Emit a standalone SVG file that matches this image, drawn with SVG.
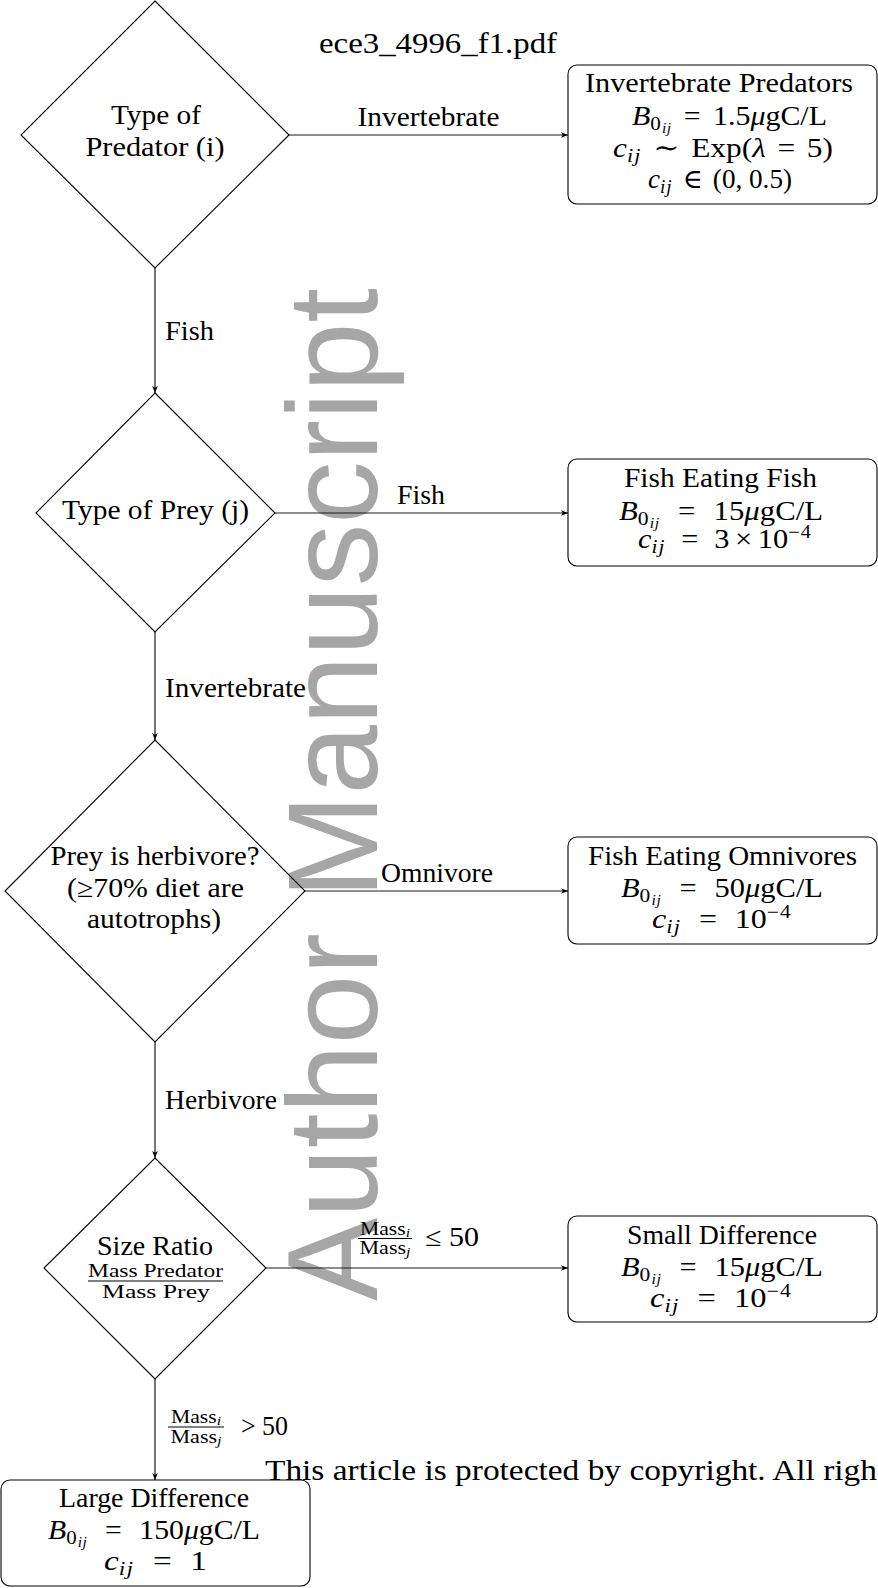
<svg xmlns="http://www.w3.org/2000/svg" width="878" height="1588" viewBox="0 0 878 1588">
<style>
.n{fill:none;stroke:#000;stroke-width:1.1}
.b{fill:#fff;stroke:#000;stroke-width:1.1}
.t{font-family:"Liberation Serif","DejaVu Serif",serif;font-size:27px;fill:#000}
.s{font-size:18px}
.i{font-style:italic}
.sb{font-size:19px;letter-spacing:1px}
.ss{font-size:14px;letter-spacing:0.5px}
.sp{font-size:18px;letter-spacing:1px}
.c{fill:none;stroke:#1a1a1a;stroke-width:1.2;marker-end:url(#ah)}
.fl{stroke:#000;stroke-width:1.1}
.wm{font-family:"Liberation Sans",Arial,sans-serif;font-size:128px;fill:#a6a6a6}
.pdf{font-family:"Liberation Serif","DejaVu Serif",serif;font-size:30px;fill:#000}
</style>
<defs>
<marker id="ah" viewBox="0 0 10 8" refX="10" refY="4" markerWidth="7" markerHeight="5.6" markerUnits="userSpaceOnUse" orient="auto">
<path d="M0,0 L10,4 L0,8 L2.5,4 z" fill="#000"/>
</marker>
</defs>
<rect width="878" height="1588" fill="#fff"/>

<g id="watermark">
<text class="wm" transform="translate(377,1301) rotate(-90)" x="0" y="0" textLength="1013" lengthAdjust="spacingAndGlyphs">Author Manuscript</text>
</g>

<g id="header">
<text class="pdf" x="319" y="53" textLength="238" lengthAdjust="spacingAndGlyphs">ece3_4996_f1.pdf</text>
</g>

<g id="connectors">
<line class="c" x1="155" y1="268" x2="155" y2="393"/>
<line class="c" x1="289" y1="135" x2="568" y2="135"/>
<line class="c" x1="275" y1="513" x2="568" y2="513"/>
<line class="c" x1="155" y1="632" x2="155" y2="740"/>
<line class="c" x1="305" y1="891" x2="568" y2="891"/>
<line class="c" x1="155" y1="1042" x2="155" y2="1158"/>
<line class="c" x1="266" y1="1268" x2="568" y2="1268"/>
<line class="c" x1="155" y1="1379" x2="155" y2="1480"/>
<text class="t" x="428.5" y="126" text-anchor="middle" textLength="142" lengthAdjust="spacingAndGlyphs">Invertebrate</text>
<text class="t" x="165" y="340" textLength="49" lengthAdjust="spacingAndGlyphs">Fish</text>
<text class="t" x="421" y="504" text-anchor="middle" textLength="48" lengthAdjust="spacingAndGlyphs">Fish</text>
<text class="t" x="165" y="697" textLength="141" lengthAdjust="spacingAndGlyphs">Invertebrate</text>
<text class="t" x="437" y="882" text-anchor="middle" textLength="112" lengthAdjust="spacingAndGlyphs">Omnivore</text>
<text class="t" x="165" y="1109" textLength="112" lengthAdjust="spacingAndGlyphs">Herbivore</text>
<g id="label-le50">
<text class="t s" x="385" y="1235" text-anchor="middle" textLength="50" lengthAdjust="spacingAndGlyphs">Mass<tspan class="i" font-size="13" dy="2">i</tspan></text>
<line class="fl" x1="358" y1="1238.5" x2="412" y2="1238.5"/>
<text class="t s" x="385" y="1254" text-anchor="middle" textLength="51" lengthAdjust="spacingAndGlyphs">Mass<tspan class="i" font-size="13" dy="2">j</tspan></text>
<text class="t" x="425" y="1246" textLength="54" lengthAdjust="spacingAndGlyphs">≤ 50</text>
</g>
<g id="label-gt50">
<text class="t s" x="196" y="1423" text-anchor="middle" textLength="50" lengthAdjust="spacingAndGlyphs">Mass<tspan class="i" font-size="13" dy="2">i</tspan></text>
<line class="fl" x1="168" y1="1427" x2="224" y2="1427"/>
<text class="t s" x="196" y="1443" text-anchor="middle" textLength="51" lengthAdjust="spacingAndGlyphs">Mass<tspan class="i" font-size="13" dy="2">j</tspan></text>
<text class="t" x="241" y="1435" textLength="47" lengthAdjust="spacingAndGlyphs">&gt; 50</text>
</g>
</g>

<g id="d1">
<polygon class="n" points="155,1 289,135 155,268 21,135"/>
<text class="t" x="156" y="124" text-anchor="middle" textLength="90" lengthAdjust="spacingAndGlyphs">Type of</text>
<text class="t" x="155" y="156" text-anchor="middle" textLength="139" lengthAdjust="spacingAndGlyphs">Predator (i)</text>
</g>

<g id="d2">
<polygon class="n" points="155,393 275,513 155,632 36,513"/>
<text class="t" x="155.5" y="519" text-anchor="middle" textLength="187" lengthAdjust="spacingAndGlyphs">Type of Prey (j)</text>
</g>

<g id="d3">
<polygon class="n" points="155,740 305,891 155,1042 5,891"/>
<text class="t" x="155" y="865" text-anchor="middle" textLength="209" lengthAdjust="spacingAndGlyphs">Prey is herbivore?</text>
<text class="t" x="155.5" y="897" text-anchor="middle" textLength="177" lengthAdjust="spacingAndGlyphs">(≥70% diet are</text>
<text class="t" x="154" y="928" text-anchor="middle" textLength="134" lengthAdjust="spacingAndGlyphs">autotrophs)</text>
</g>

<g id="d4">
<polygon class="n" points="155,1158 266,1268 155,1379 44,1268"/>
<text class="t" x="155" y="1255" text-anchor="middle" textLength="116" lengthAdjust="spacingAndGlyphs">Size Ratio</text>
<text class="t s" x="155.5" y="1277" text-anchor="middle" textLength="135" lengthAdjust="spacingAndGlyphs">Mass Predator</text>
<line class="fl" x1="88" y1="1281" x2="223" y2="1281"/>
<text class="t s" x="156" y="1298" text-anchor="middle" textLength="108" lengthAdjust="spacingAndGlyphs">Mass Prey</text>
</g>

<g id="b1">
<rect class="b" x="568" y="65" width="309" height="139" rx="9"/>
<text class="t" x="719" y="92" text-anchor="middle" textLength="268" lengthAdjust="spacingAndGlyphs">Invertebrate Predators</text>
<text class="t" x="729.5" y="125" text-anchor="middle" textLength="195" lengthAdjust="spacingAndGlyphs"><tspan class="i">B</tspan><tspan class="sb" dy="5">0</tspan><tspan class="i ss" dy="3">ij</tspan><tspan dx="11" dy="-8">=</tspan><tspan dx="11">1.5</tspan><tspan class="i">μ</tspan><tspan>gC/L</tspan></text>
<text class="t" x="723" y="157" text-anchor="middle" textLength="220" lengthAdjust="spacingAndGlyphs"><tspan class="i">c</tspan><tspan class="i sb" dy="5">ij</tspan><tspan dx="10" dy="-5">∼</tspan><tspan dx="10">Exp(</tspan><tspan class="i">λ</tspan><tspan dx="10">=</tspan><tspan dx="10">5)</tspan></text>
<text class="t" x="720" y="188" text-anchor="middle" textLength="144" lengthAdjust="spacingAndGlyphs"><tspan class="i">c</tspan><tspan class="i sb" dy="5">ij</tspan><tspan dx="10" dy="-5">∈</tspan><tspan dx="10">(0, 0.5)</tspan></text>
</g>

<g id="b2">
<rect class="b" x="568" y="459" width="309" height="107" rx="9"/>
<text class="t" x="720.5" y="487" text-anchor="middle" textLength="193" lengthAdjust="spacingAndGlyphs">Fish Eating Fish</text>
<text class="t" x="721" y="520" text-anchor="middle" textLength="204" lengthAdjust="spacingAndGlyphs"><tspan class="i">B</tspan><tspan class="sb" dy="5">0</tspan><tspan class="i ss" dy="3">ij</tspan><tspan dx="16" dy="-8">=</tspan><tspan dx="16">15</tspan><tspan class="i">μ</tspan><tspan>gC/L</tspan></text>
<text class="t" x="725" y="548" text-anchor="middle" textLength="174" lengthAdjust="spacingAndGlyphs"><tspan class="i">c</tspan><tspan class="i sb" dy="5">ij</tspan><tspan dx="14" dy="-5">=</tspan><tspan dx="14">3</tspan><tspan dx="5">×</tspan><tspan dx="5">10</tspan><tspan class="sp" dy="-10">−4</tspan></text>
</g>

<g id="b3">
<rect class="b" x="568" y="837" width="309" height="107" rx="9"/>
<text class="t" x="722.5" y="865" text-anchor="middle" textLength="269" lengthAdjust="spacingAndGlyphs">Fish Eating Omnivores</text>
<text class="t" x="722" y="897" text-anchor="middle" textLength="202" lengthAdjust="spacingAndGlyphs"><tspan class="i">B</tspan><tspan class="sb" dy="5">0</tspan><tspan class="i ss" dy="3">ij</tspan><tspan dx="16" dy="-8">=</tspan><tspan dx="16">50</tspan><tspan class="i">μ</tspan><tspan>gC/L</tspan></text>
<text class="t" x="722" y="928" text-anchor="middle" textLength="140" lengthAdjust="spacingAndGlyphs"><tspan class="i">c</tspan><tspan class="i sb" dy="5">ij</tspan><tspan dx="15" dy="-5">=</tspan><tspan dx="15">10</tspan><tspan class="sp" dy="-10">−4</tspan></text>
</g>

<g id="b4">
<rect class="b" x="568" y="1216" width="309" height="106" rx="9"/>
<text class="t" x="722" y="1244" text-anchor="middle" textLength="190" lengthAdjust="spacingAndGlyphs">Small Difference</text>
<text class="t" x="722" y="1276" text-anchor="middle" textLength="202" lengthAdjust="spacingAndGlyphs"><tspan class="i">B</tspan><tspan class="sb" dy="5">0</tspan><tspan class="i ss" dy="3">ij</tspan><tspan dx="16" dy="-8">=</tspan><tspan dx="16">15</tspan><tspan class="i">μ</tspan><tspan>gC/L</tspan></text>
<text class="t" x="721" y="1307" text-anchor="middle" textLength="142" lengthAdjust="spacingAndGlyphs"><tspan class="i">c</tspan><tspan class="i sb" dy="5">ij</tspan><tspan dx="15" dy="-5">=</tspan><tspan dx="15">10</tspan><tspan class="sp" dy="-10">−4</tspan></text>
</g>

<g id="b5">
<rect class="b" x="1" y="1480" width="309" height="106" rx="9"/>
<text class="t" x="154" y="1507" text-anchor="middle" textLength="190" lengthAdjust="spacingAndGlyphs">Large Difference</text>
<text class="t" x="154" y="1539" text-anchor="middle" textLength="212" lengthAdjust="spacingAndGlyphs"><tspan class="i">B</tspan><tspan class="sb" dy="5">0</tspan><tspan class="i ss" dy="3">ij</tspan><tspan dx="16" dy="-8">=</tspan><tspan dx="16">150</tspan><tspan class="i">μ</tspan><tspan>gC/L</tspan></text>
<text class="t" x="155.5" y="1570" text-anchor="middle" textLength="103" lengthAdjust="spacingAndGlyphs"><tspan class="i">c</tspan><tspan class="i sb" dy="5">ij</tspan><tspan dx="15" dy="-5">=</tspan><tspan dx="15">1</tspan></text>
</g>

<g id="footer">
<text class="pdf" x="265" y="1480" textLength="612" lengthAdjust="spacingAndGlyphs">This article is protected by copyright. All righ</text>
</g>
</svg>
